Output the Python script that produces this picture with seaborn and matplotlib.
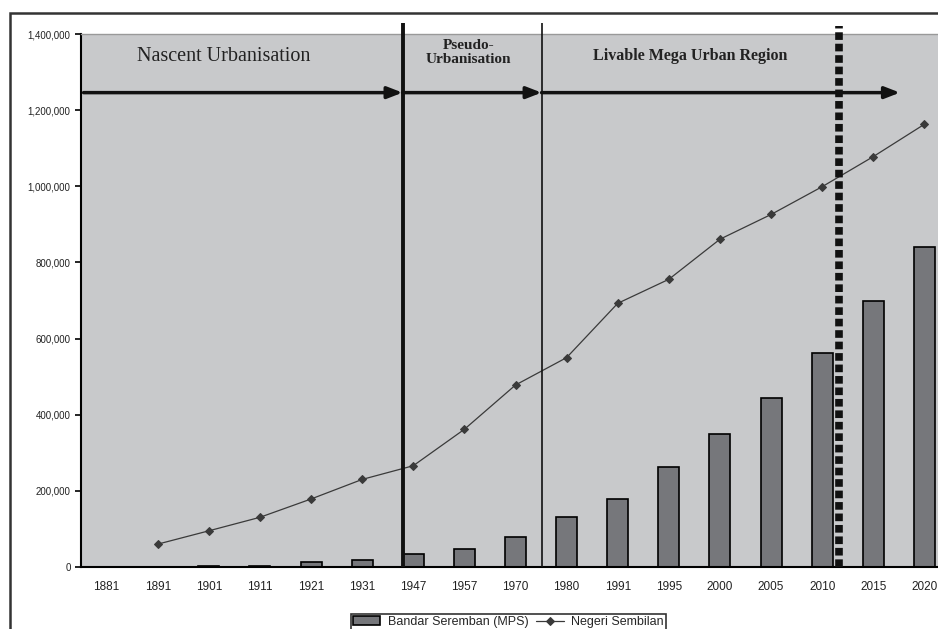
import matplotlib
matplotlib.use("Agg")
import matplotlib.pyplot as plt
from matplotlib.patches import Rectangle
from matplotlib.ticker import FuncFormatter
import seaborn as sns
import numpy as np
import pandas as pd

years = ["1881", "1891", "1901", "1911", "1921", "1931", "1947", "1957", "1970",
         "1980", "1991", "1995", "2000", "2005", "2010", "2015", "2020"]
bandar_seremban = [0, 0, 3000, 3000, 12000, 17500, 34000, 47000, 78000,
                   130500, 178000, 262700, 348500, 444700, 563000, 698700, 841000]
negeri_sembilan = [np.nan, 60000, 95000, 130500, 178600, 230000, 266000, 361700, 478000,
                   550000, 692600, 755700, 861000, 926000, 999000, 1078000, 1163000]

phase_names = ["Nascent Urbanisation", "Pseudo-\nUrbanisation", "Livable Mega Urban Region"]

df = pd.DataFrame({"Year": years, "MPS": bandar_seremban, "NS": negeri_sembilan})
df["pos"] = np.arange(len(df))

sns.set_style("white")
plt.rcParams["font.family"] = ["Liberation Sans", "DejaVu Sans"]

fig = plt.figure(figsize=(9.38, 6.29), dpi=100)
W, H = 938, 629
ax = fig.add_axes([81 / W, (H - 567) / H, 869 / W, 533 / H])
ax.set_facecolor("#c8c9cb")

sns.barplot(data=df, x="Year", y="MPS", order=years, color="#76777b", saturation=1,
            width=0.41, edgecolor="black", linewidth=1.2, ax=ax,
            label="Bandar Seremban (MPS)")
sns.lineplot(data=df, x="pos", y="NS", color="#3a3a3a", linewidth=0.9, marker="D",
             markersize=4, markeredgecolor="#3a3a3a", ax=ax, label="Negeri Sembilan")

ax.set_xlim(-0.5, len(years) - 0.5)
ax.set_ylim(0, 1400000)
ax.set_xlabel("")
ax.set_ylabel("")

ax.set_xticks(np.arange(len(years)))
ax.set_xticklabels(years, fontsize=8.5, color="#222")
ax.tick_params(axis="x", which="major", length=0, pad=10)
ax.set_xticks(np.arange(len(years) + 1) - 0.5, minor=True)
ax.tick_params(axis="x", which="minor", length=6, width=1.2, direction="inout", color="black")

ax.set_yticks(np.arange(0, 1400001, 200000))
ax.yaxis.set_major_formatter(FuncFormatter(lambda v, p: f"{int(v):,}"))
ax.tick_params(axis="y", length=4, width=1.2, direction="out", color="black",
               labelsize=7, labelcolor="#222", left=True)

for s in ["left", "bottom"]:
    ax.spines[s].set_color("black")
    ax.spines[s].set_linewidth(1.5)
ax.spines["top"].set_color("#999")
ax.spines["top"].set_linewidth(1)
ax.spines["right"].set_visible(False)

# phase separators
ax.vlines(5.79, 0, 1430000, color="#111", linewidth=2.8, clip_on=False, zorder=5)
ax.vlines(8.51, 0, 1430000, color="#111", linewidth=1.2, clip_on=False, zorder=5)
ax.vlines(14.32, 0, 1420000, color="#111", linewidth=5.5, linestyles=(0, (1.0, 0.5)),
          clip_on=False, zorder=5)

# arrows
arrow_y = 1246000
for x0, x1 in [(-0.45, 5.79), (5.79, 8.51), (8.51, 15.52)]:
    ax.annotate("", xy=(x1, arrow_y), xytext=(x0, arrow_y),
                arrowprops=dict(arrowstyle="-|>,head_length=0.9,head_width=0.35",
                                color="#111", lw=2.5, shrinkA=0, shrinkB=0), zorder=6)

ax.text(2.29, 1342000, phase_names[0], ha="center", va="center", fontsize=14.5,
        family="Liberation Serif", color="#222")
ax.text(7.08, 1352000, phase_names[1], ha="center", va="center", fontsize=11,
        family="Liberation Serif", fontweight="bold", color="#222", linespacing=1.05)
ax.text(11.41, 1342000, phase_names[2], ha="center", va="center", fontsize=11.5,
        family="Liberation Serif", fontweight="bold", color="#222")

# legend (bar first, then line), placed below the axes
handles, labels = ax.get_legend_handles_labels()
ax.get_legend().remove()
lookup = dict(zip(labels, handles))
order = ["Bandar Seremban (MPS)", "Negeri Sembilan"]
leg = fig.legend([lookup[k] for k in order], order, loc="upper left",
                 bbox_to_anchor=(351 / W, 1 - 614 / H),
                 ncol=2, fontsize=9, frameon=True, fancybox=False, borderpad=0.15,
                 handlelength=2.2, columnspacing=0.6, handletextpad=0.6, borderaxespad=0)
leg.get_frame().set_edgecolor("black")
leg.get_frame().set_linewidth(1.2)
leg.get_frame().set_facecolor("white")

# outer chart border
fig.patches.append(Rectangle((10 / W, -0.1), 1.0, 1 - 13 / H + 0.1, transform=fig.transFigure,
                             fill=False, edgecolor="#333", linewidth=1.8))

fig.savefig("out.png", dpi=100)
